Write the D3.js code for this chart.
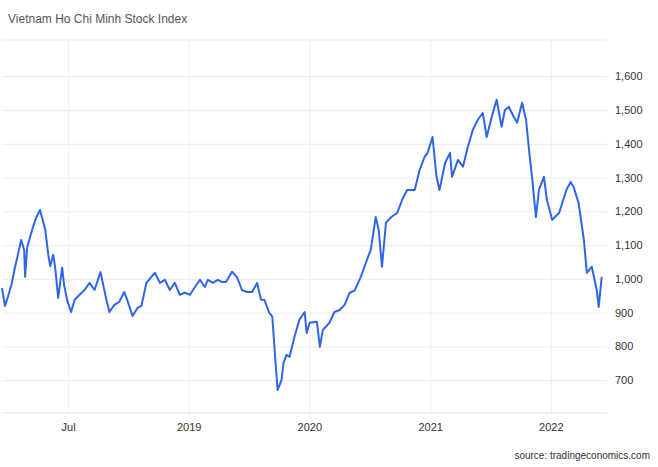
<!DOCTYPE html>
<html lang="en">
<head>
<meta charset="UTF-8">
<title>Vietnam Ho Chi Minh Stock Index</title>
<script src="https://cdn.jsdelivr.net/npm/d3@7"></script>
<style>
  body { margin: 0; background: #fff; }
  text { font-family: "Liberation Sans", Arial, sans-serif; }
</style>
</head>
<body>
<script>
  // values
  let dates = ["2017-06-15","2017-06-24","2017-07-03","2017-07-15","2017-07-24","2017-08-02","2017-08-12","2017-08-21","2017-08-24","2017-08-30",
    "2017-09-08","2017-09-17","2017-09-26","2017-10-08","2017-10-24","2017-11-02","2017-11-08","2017-11-17","2017-11-23","2017-12-02",
    "2017-12-14","2017-12-20","2017-12-29","2018-01-10","2018-01-21","2018-02-05","2018-02-20","2018-03-07","2018-03-22","2018-04-09",
    "2018-04-27","2018-05-06","2018-05-21","2018-06-05","2018-06-20","2018-06-29","2018-07-15","2018-07-30","2018-08-11","2018-08-26",
    "2018-09-10","2018-09-21","2018-10-06","2018-10-21","2018-11-05","2018-11-20","2018-12-05","2018-12-20","2019-01-05","2019-01-20",
    "2019-02-04","2019-02-19","2019-02-28","2019-03-15","2019-03-30","2019-04-11","2019-04-24","2019-05-12","2019-05-27","2019-06-11",
    "2019-06-27","2019-07-12","2019-07-27","2019-08-08","2019-08-18","2019-09-02","2019-09-11","2019-09-21","2019-09-27","2019-10-09",
    "2019-10-15","2019-10-24","2019-11-02","2019-11-17","2019-12-02","2019-12-18","2019-12-24","2020-01-02","2020-01-24","2020-02-02",
    "2020-02-11","2020-03-02","2020-03-17","2020-04-02","2020-04-17","2020-05-02","2020-05-17","2020-06-05","2020-06-20","2020-07-05",
    "2020-07-20","2020-07-29","2020-08-08","2020-08-20","2020-09-05","2020-09-23","2020-10-08","2020-10-23","2020-11-15","2020-11-30",
    "2020-12-15","2020-12-24","2021-01-08","2021-01-20","2021-01-29","2021-02-15","2021-03-02","2021-03-08","2021-03-26","2021-04-10",
    "2021-04-25","2021-05-10","2021-05-25","2021-06-09","2021-06-21","2021-07-06","2021-07-21","2021-08-05","2021-08-15","2021-08-27",
    "2021-09-11","2021-09-21","2021-10-06","2021-10-18","2021-10-27","2021-11-05","2021-11-17","2021-11-26","2021-12-11","2021-12-20",
    "2022-01-05","2022-01-26","2022-02-17","2022-03-02","2022-03-11","2022-03-26","2022-04-11","2022-04-20","2022-05-05","2022-05-20",
    "2022-05-26","2022-06-04"]
  let values = [973,920,947,988,1033,1071,1115,1086,1006,1092,
    1124,1154,1180,1204,1145,1071,1038,1071,1033,944,
    1033,982,938,902,938,953,967,988,967,1020,
    938,902,923,932,961,938,890,914,920,988,
    1006,1018,988,997,967,988,953,959,953,976,
    997,976,997,988,997,991,991,1021,1006,967,
    961,961,988,938,938,899,888,751,671,701,
    751,775,769,828,879,902,840,870,873,799,
    849,870,902,908,923,959,965,1006,1047,1086,
    1183,1145,1036,1166,1183,1195,1234,1263,1263,1323,
    1361,1373,1420,1302,1263,1343,1373,1302,1352,1332,
    1391,1441,1471,1491,1420,1479,1530,1450,1500,1509,
    1479,1462,1521,1471,1382,1302,1183,1263,1302,1234,
    1175,1195,1263,1287,1272,1225,1115,1018,1036,967,
    917,1006]
  let yTicks = [700, 800, 900, 1000, 1100, 1200, 1300, 1400, 1500, 1600]
  let xTickDates = ["2018-01-01", "2019-01-01", "2020-01-01", "2021-01-01", "2022-01-01"]
  let xTickLabels = ["Jul", "2019", "2020", "2021", "2022"]

  let w = 658, h = 467
  let padL = 2, padR = 607, padT = 40, padB = 413
  let parse = d3.timeParse("%Y-%m-%d")
  let data = dates.map((d, i) => [parse(d), values[i]])

  let xScale = d3.scaleTime()
    .domain([parse("2017-06-15"), parse("2022-06-20")])
    .range([padL, padR])
  let yScale = d3.scaleLinear()
    .domain([603, 1707])
    .range([padB, padT])

  let svg = d3.select("body").append("svg")
    .attr("width", w)
    .attr("height", h)

  svg.append("text")
    .attr("x", 8).attr("y", 23)
    .attr("font-size", "12px").attr("fill", "#555")
    .text("Vietnam Ho Chi Minh Stock Index")

  // horizontal grid + right labels
  let yAxis = d3.axisRight(yScale).tickValues(yTicks).tickSize(-(padR - padL))
  let gy = svg.append("g").attr("transform", "translate(" + padR + ",0)").call(yAxis)
  gy.select(".domain").remove()
  gy.selectAll("line").attr("stroke", "#ebebeb")
  gy.selectAll("text").attr("font-size", "11px").attr("fill", "#333").attr("x", 8)

  // vertical grid + bottom labels
  let xAxis = d3.axisBottom(xScale)
    .tickValues(xTickDates.map(parse))
    .tickFormat((d, i) => xTickLabels[i])
    .tickSize(-(padB - padT)).tickPadding(10)
  let gx = svg.append("g").attr("transform", "translate(0," + padB + ")").call(xAxis)
  gx.select(".domain").remove()
  gx.selectAll("line").attr("stroke", "#efefef")
  gx.selectAll("text").attr("font-size", "11px").attr("fill", "#333")

  // frame lines top/bottom
  svg.append("line").attr("x1", padL).attr("x2", padR).attr("y1", padT).attr("y2", padT).attr("stroke", "#ebebeb")
  svg.append("line").attr("x1", padL).attr("x2", padR).attr("y1", padB).attr("y2", padB).attr("stroke", "#e6e6e6")

  svg.append("path")
    .datum(data)
    .attr("fill", "none")
    .attr("stroke", "#2f66e6")
    .attr("stroke-width", 2)
    .attr("stroke-linejoin", "round")
    .attr("d", d3.line().x(d => xScale(d[0])).y(d => yScale(d[1])))

  svg.append("text")
    .attr("x", 650).attr("y", 459).attr("text-anchor", "end")
    .attr("font-size", "10px").attr("fill", "#333")
    .text("source: tradingeconomics.com")
</script>
</body>
</html>
